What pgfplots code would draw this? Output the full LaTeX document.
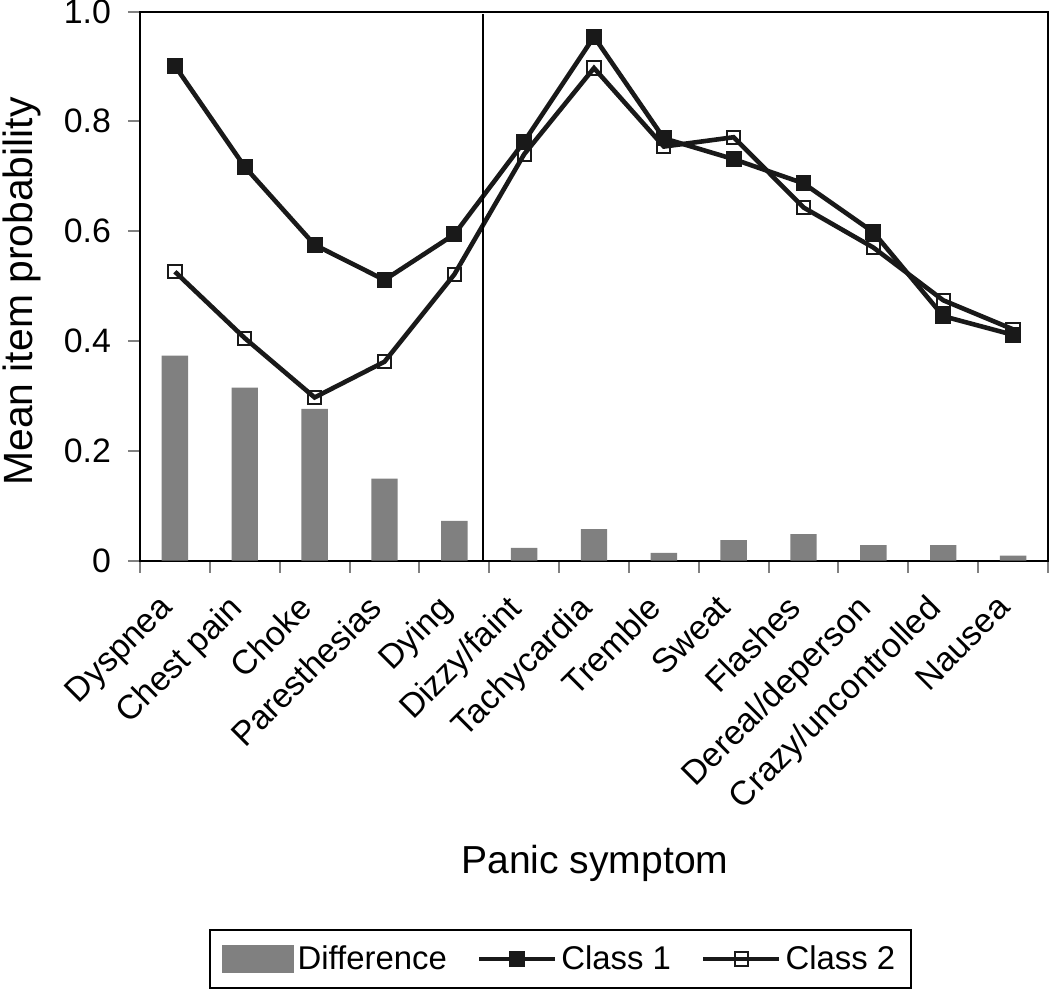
\documentclass[border=0pt]{standalone}
\usepackage{fontspec}
\setmainfont{Liberation Sans}
\usepackage{pgfplots}
\usepackage{pgfplotstable}
\pgfplotsset{compat=1.18}
\pgfplotsset{
  mylineleg/.style={legend image code/.code={\draw[mark repeat=2,mark phase=2,##1] plot coordinates {(0bp,0bp) (19bp,0bp) (38bp,0bp)};}},
  mybarleg/.style={legend image code/.code={\fill[black!50] (0bp,-7bp) rectangle (36bp,7bp);}},
}

\pgfplotstableread{
x diff c1 c2
0 0.373 0.901 0.526
1 0.315 0.717 0.405
2 0.276 0.575 0.297
3 0.149 0.511 0.362
4 0.072 0.594 0.521
5 0.023 0.763 0.740
6 0.057 0.954 0.897
7 0.014 0.769 0.754
8 0.037 0.731 0.771
9 0.048 0.687 0.643
10 0.028 0.598 0.570
11 0.028 0.445 0.474
12 0.009 0.411 0.421
}\data

\begin{document}
\begin{tikzpicture}
\begin{axis}[
  name=ax,
  scale only axis,
  width=454bp, height=274.5bp,
  xmin=-0.5, xmax=12.5,
  ymin=0, ymax=1,
  axis line style={line width=1bp},
  tick align=outside,
  xtick pos=bottom, ytick pos=left,
  xtick={0,...,12},
  xticklabels={Dyspnea,Chest pain,Choke,Paresthesias,Dying,Dizzy/faint,Tachycardia,Tremble,Sweat,Flashes,Dereal/deperson,Crazy/uncontrolled,Nausea},
  major x tick style={draw=none},
  minor xtick={-0.5,0.5,...,12.5},
  minor x tick style={line width=1bp},
  minor tick length=6bp,
  major tick length=6bp,
  ytick={0,0.2,0.4,0.6,0.8,1.0},
  yticklabels={0,0.2,0.4,0.6,0.8,1.0},
  major y tick style={line width=1bp},
  xticklabel style={xshift=-9bp, yshift=-10bp, rotate=45, anchor=north east, font=\fontsize{17}{20}\selectfont, inner sep=0pt},
  yticklabel style={font=\fontsize{17}{20}\selectfont, xshift=-5bp},
  xlabel={Panic symptom},
  ylabel={Mean item probability},
  xlabel style={at={(axis description cs:0.501,-0.552)}, anchor=center, font=\fontsize{19.6}{23}\selectfont},
  ylabel style={at={(axis description cs:-0.13,0.49)}, anchor=center, rotate=0, font=\fontsize{20.5}{24}\selectfont},
  legend style={at={(axis description cs:0.463,-0.726)}, anchor=center, legend columns=3, draw=black, line width=1bp,
    font=\fontsize{16.5}{20}\selectfont, inner xsep=6bp, inner ysep=6bp,
    /tikz/every even column/.append style={column sep=13bp}},
  clip=false,
]
\addplot[ybar, bar width=13.2bp, fill=black!50, draw=none, mybarleg]
  table[x=x,y=diff]{\data};
\addlegendentry{Difference}
\addplot[line width=2.3bp, color=black!90, mark=square*, mark size=3.7bp, mark options={line width=0.5bp, fill=black!90}, mylineleg]
  table[x=x,y=c1]{\data};
\addlegendentry{Class 1}
\addplot[line width=2.3bp, color=black!90, mark=square, mark size=3.3bp, mark options={line width=1bp, fill=none}, mylineleg]
  table[x=x,y=c2]{\data};
\addlegendentry{Class 2}
\addplot[line width=0.8bp, black, forget plot] coordinates {(4.41,0) (4.41,0.995)};
\end{axis}
\pgfresetboundingbox
\path ([shift={(-70bp,-215.75bp)}]ax.south west) rectangle ([shift={(1bp,5.75bp)}]ax.north east);
\end{tikzpicture}
\end{document}
